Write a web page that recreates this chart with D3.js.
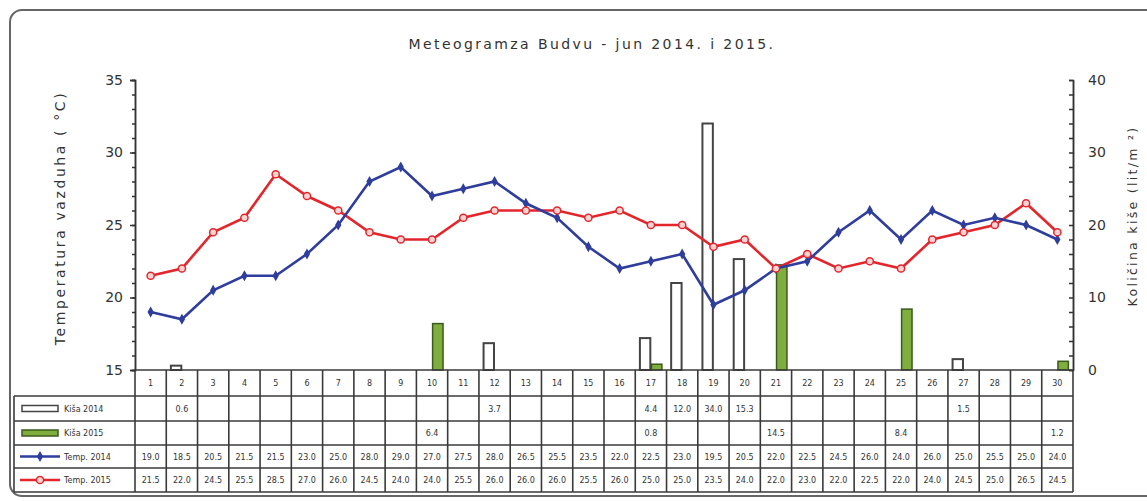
<!DOCTYPE html>
<html>
<head>
<meta charset="utf-8">
<script src="https://cdn.jsdelivr.net/npm/d3@7"></script>
<style>
  body { margin: 0; background: #fff; }
  text { font-family: "DejaVu Sans", Verdana, sans-serif; fill: #333; }
</style>
</head>
<body>
<div id="chart"></div>
<script>
// Days of June
const days = [1, 2, 3, 4, 5, 6, 7, 8, 9, 10, 11, 12, 13, 14, 15,
  16, 17, 18, 19, 20, 21, 22, 23, 24, 25, 26, 27, 28, 29, 30];

// Rain amounts (lit/m2), null = no rain
const rain2014 = [null, 0.6, null, null, null, null, null, null, null, null,
  null, 3.7, null, null, null, null, 4.4, 12.0, 34.0, 15.3,
  null, null, null, null, null, null, 1.5, null, null, null];
const rain2015 = [null, null, null, null, null, null, null, null, null, 6.4,
  null, null, null, null, null, null, 0.8, null, null, null,
  14.5, null, null, null, 8.4, null, null, null, null, 1.2];

// Mean air temperature (°C)
const temp2014 = [19.0, 18.5, 20.5, 21.5, 21.5, 23.0, 25.0, 28.0, 29.0, 27.0,
  27.5, 28.0, 26.5, 25.5, 23.5, 22.0, 22.5, 23.0, 19.5, 20.5,
  22.0, 22.5, 24.5, 26.0, 24.0, 26.0, 25.0, 25.5, 25.0, 24.0];
const temp2015 = [21.5, 22.0, 24.5, 25.5, 28.5, 27.0, 26.0, 24.5, 24.0, 24.0,
  25.5, 26.0, 26.0, 26.0, 25.5, 26.0, 25.0, 25.0, 23.5, 24.0,
  22.0, 23.0, 22.0, 22.5, 22.0, 24.0, 24.5, 25.0, 26.5, 24.5];

const tempTicks = [15, 20, 25, 30, 35];
const rainTicks = [0, 10, 20, 30, 40];

const rowLabels = ['Kiša 2014', 'Kiša 2015', 'Temp. 2014', 'Temp. 2015'];

const BLUE = '#2f3d9c';
const RED = '#e2262c';
const GREEN = '#7fae3e';

const W = 1147, H = 501;
const plot = {left: 135, right: 1073, top: 80, bottom: 370};
const rows = [370, 396, 421, 445, 468, 492];
const legendLeft = 14;

const svg = d3.select('#chart').append('svg')
  .attr('width', W)
  .attr('height', H);

// Outer rounded frame
svg.append('rect')
  .attr('x', 10).attr('y', 10)
  .attr('width', 1150).attr('height', 486)
  .attr('rx', 12)
  .attr('fill', '#fff')
  .attr('stroke', '#666')
  .attr('stroke-width', 2);

svg.append('text')
  .attr('x', 592).attr('y', 49)
  .attr('text-anchor', 'middle')
  .attr('font-size', '14px')
  .attr('letter-spacing', '2.4px')
  .text('Meteogramza Budvu - jun 2014. i 2015.');

// Scales
const x = d3.scaleBand().domain(days).range([plot.left, plot.right]);
const xSub = d3.scaleBand().domain(['2014', '2015']).range([-11, 11]).paddingInner(0.1);
const yT = d3.scaleLinear().domain([15, 35]).range([plot.bottom, plot.top]);
const yR = d3.scaleLinear().domain([0, 40]).range([plot.bottom, plot.top]);
const cx = d => x(d) + x.bandwidth() / 2;

// Left axis
const leftMinor = svg.append('g')
  .attr('transform', `translate(${plot.left},0)`)
  .call(d3.axisLeft(yT).ticks(20).tickSize(3).tickFormat(''));
const leftMajor = svg.append('g')
  .attr('transform', `translate(${plot.left},0)`)
  .call(d3.axisLeft(yT).tickValues(tempTicks).tickSize(5).tickPadding(7));
[leftMinor, leftMajor].forEach(g => {
  g.select('.domain').attr('stroke', '#333').attr('stroke-width', 1.5);
  g.selectAll('.tick line').attr('stroke', '#333').attr('stroke-width', 1.5);
});
leftMajor.selectAll('.tick text')
  .attr('font-size', '14px')
  .attr('font-family', '"DejaVu Sans", sans-serif')
  .attr('fill', '#444');

// Right axis
const rightMinor = svg.append('g')
  .attr('transform', `translate(${plot.right},0)`)
  .call(d3.axisLeft(yR).tickValues(d3.range(0, 41, 2)).tickSize(4).tickFormat(''));
const rightMajor = svg.append('g')
  .attr('transform', `translate(${plot.right},0)`)
  .call(d3.axisRight(yR).tickValues(rainTicks).tickSize(0).tickPadding(15));
[rightMinor, rightMajor].forEach(g => {
  g.select('.domain').attr('stroke', '#333').attr('stroke-width', 1.5);
  g.selectAll('.tick line').attr('stroke', '#333').attr('stroke-width', 1.5);
});
rightMajor.selectAll('.tick text')
  .attr('font-size', '14px')
  .attr('font-family', '"DejaVu Sans", sans-serif')
  .attr('fill', '#444');

svg.append('text')
  .attr('transform', `translate(65, ${(plot.top + plot.bottom) / 2 - 7}) rotate(-90)`)
  .attr('text-anchor', 'middle')
  .attr('font-size', '14px')
  .attr('letter-spacing', '2.6px')
  .text('Temperatura vazduha ( °C)');

svg.append('text')
  .attr('transform', `translate(1137, ${(plot.top + plot.bottom) / 2 - 9}) rotate(-90)`)
  .attr('text-anchor', 'middle')
  .attr('font-size', '12.5px')
  .attr('letter-spacing', '2.3px')
  .text('Količina kiše (lit/m ²)');

// Rain bars
const bars = svg.append('g');
bars.selectAll('.r14')
  .data(days.filter((d, i) => rain2014[i] !== null))
  .enter().append('rect')
  .attr('x', d => cx(d) + xSub('2014'))
  .attr('width', xSub.bandwidth())
  .attr('y', d => yR(rain2014[d - 1]))
  .attr('height', d => yR(0) - yR(rain2014[d - 1]))
  .attr('fill', '#fff')
  .attr('stroke', '#444')
  .attr('stroke-width', 2);
bars.selectAll('.r15')
  .data(days.filter((d, i) => rain2015[i] !== null))
  .enter().append('rect')
  .attr('x', d => cx(d) + xSub('2015'))
  .attr('width', xSub.bandwidth())
  .attr('y', d => yR(rain2015[d - 1]))
  .attr('height', d => yR(0) - yR(rain2015[d - 1]))
  .attr('fill', GREEN)
  .attr('stroke', '#3b5a1e')
  .attr('stroke-width', 1.5);

// Temperature lines
const line = d3.line().x(d => cx(d.day)).y(d => yT(d.t));
const s14 = days.map((d, i) => ({day: d, t: temp2014[i]}));
const s15 = days.map((d, i) => ({day: d, t: temp2015[i]}));

svg.append('path').datum(s15)
  .attr('d', line).attr('fill', 'none')
  .attr('stroke', RED).attr('stroke-width', 2.6);
svg.append('path').datum(s14)
  .attr('d', line).attr('fill', 'none')
  .attr('stroke', BLUE).attr('stroke-width', 2.6);

const diamond = d3.symbol().type(d3.symbolDiamond).size(34);
svg.selectAll('.m14').data(s14).enter().append('path')
  .attr('transform', d => `translate(${cx(d.day)},${yT(d.t)})`)
  .attr('d', diamond)
  .attr('fill', BLUE);
svg.selectAll('.m15').data(s15).enter().append('circle')
  .attr('cx', d => cx(d.day)).attr('cy', d => yT(d.t))
  .attr('r', 3.6)
  .attr('fill', '#f7d4d4')
  .attr('stroke', RED).attr('stroke-width', 1.5);

// Data table
const table = svg.append('g');
const gridColor = '#3a3a3a';

// horizontal lines
rows.forEach((y, i) => {
  table.append('line')
    .attr('x1', i === 0 ? plot.left : legendLeft)
    .attr('x2', plot.right)
    .attr('y1', y).attr('y2', y)
    .attr('stroke', gridColor).attr('stroke-width', 1.6);
});
table.append('line')
  .attr('x1', legendLeft).attr('x2', legendLeft)
  .attr('y1', rows[1]).attr('y2', rows[5])
  .attr('stroke', gridColor).attr('stroke-width', 1.6);
// vertical lines per day
table.selectAll('.vl').data(days.concat([null]))
  .enter().append('line')
  .attr('x1', d => d === null ? plot.right : x(d))
  .attr('x2', d => d === null ? plot.right : x(d))
  .attr('y1', rows[0]).attr('y2', rows[5])
  .attr('stroke', gridColor).attr('stroke-width', 1.6);

// header (day numbers)
table.selectAll('.dn').data(days).enter().append('text')
  .attr('x', d => cx(d)).attr('y', (rows[0] + rows[1]) / 2 + 3)
  .attr('text-anchor', 'middle')
  .attr('font-size', '8px')
  .text(d => d);

const tableSeries = [rain2014, rain2015, temp2014, temp2015];
tableSeries.forEach((vals, r) => {
  const yMid = (rows[r + 1] + rows[r + 2]) / 2;
  table.selectAll(`.v${r}`).data(days.filter((d, i) => vals[i] !== null))
    .enter().append('text')
    .attr('x', d => cx(d)).attr('y', yMid + 3)
    .attr('text-anchor', 'middle')
    .attr('font-size', '8px')
    .text(d => vals[d - 1].toFixed(1));
});

// legend cells
rowLabels.forEach((lab, r) => {
  const yMid = (rows[r + 1] + rows[r + 2]) / 2;
  const g = table.append('g');
  if (r === 0) {
    g.append('rect').attr('x', 22).attr('y', yMid - 3).attr('width', 36).attr('height', 6)
      .attr('fill', '#fff').attr('stroke', '#444').attr('stroke-width', 1.5);
  } else if (r === 1) {
    g.append('rect').attr('x', 22).attr('y', yMid - 3).attr('width', 36).attr('height', 6)
      .attr('fill', GREEN).attr('stroke', '#3b5a1e').attr('stroke-width', 1.5);
  } else if (r === 2) {
    g.append('line').attr('x1', 20).attr('x2', 60).attr('y1', yMid).attr('y2', yMid)
      .attr('stroke', BLUE).attr('stroke-width', 2.6);
    g.append('path').attr('transform', `translate(40,${yMid})`).attr('d', diamond).attr('fill', BLUE);
  } else {
    g.append('line').attr('x1', 20).attr('x2', 60).attr('y1', yMid).attr('y2', yMid)
      .attr('stroke', RED).attr('stroke-width', 2.6);
    g.append('circle').attr('cx', 40).attr('cy', yMid).attr('r', 3.6)
      .attr('fill', '#f7d4d4').attr('stroke', RED).attr('stroke-width', 1.5);
  }
  g.append('text').attr('x', 64).attr('y', yMid + 3)
    .attr('font-size', '8px')
    .text(lab);
});
</script>
</body>
</html>
